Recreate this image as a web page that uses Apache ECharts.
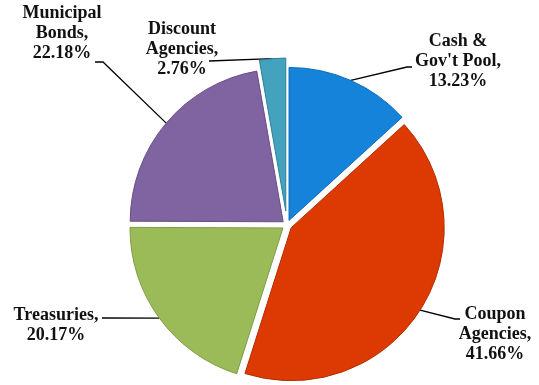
<!DOCTYPE html>
<html>
<head>
<meta charset="utf-8">
<script src="https://cdn.jsdelivr.net/npm/echarts@6/dist/echarts.min.js"></script>
<style>
  html, body { margin: 0; padding: 0; background: #ffffff; }
  #chart { width: 539px; height: 385px; }
</style>
</head>
<body>
<div id="chart"></div>
<script>
// Portfolio composition by holding type (percent of total)
const categories = ["Cash &\nGov't Pool", 'Coupon\nAgencies', 'Treasuries', 'Municipal\nBonds', 'Discount\nAgencies'];
const shares = [13.23, 41.66, 20.17, 22.18, 2.76];
const sliceColors = ['#1583d9', '#dc3a02', '#9bbb59', '#8063a1', '#43a3bf'];
const edgeColors = ['#0f6cb4', '#b22e00', '#7f9c46', '#674f85', '#327f95'];

// How far each slice is pulled away from the centre (the thin one sticks out more)
const sliceOffsets = [5, 5, 5, 5, 14];

// Where each label block sits and how its leader line bends (page coordinates)
const labelPlacement = [
  { x: 458, y: 61, path: [[407, 67], [412, 67]] },
  { x: 495, y: 334, path: [[455, 319], [460, 319]] },
  { x: 56, y: 325, path: [[102, 318]] },
  { x: 62, y: 33, path: [[103, 62], [95, 62]] },
  { x: 182, y: 49, path: [[209, 61]] }
];

const CENTER = [287, 225];
const RADIUS = 153;

// Mid angle of each slice, measured clockwise from 12 o'clock
const totalShare = shares.reduce(function (a, b) { return a + b; }, 0);
const midAngles = (function () {
  let acc = 0;
  return shares.map(function (v) {
    const m = (acc + v / 2) / totalShare * Math.PI * 2;
    acc += v;
    return m;
  });
})();

const baseSeries = {
  type: 'pie',
  center: CENTER,
  radius: RADIUS,
  startAngle: 90,
  clockwise: true,
  avoidLabelOverlap: false,
  emphasis: { disabled: true },
  silent: true
};

// Slices: one pie per distinct pull-out distance, other slices left transparent
const distinctOffsets = sliceOffsets.filter(function (v, i, a) { return a.indexOf(v) === i; });
const sliceSeries = distinctOffsets.map(function (off) {
  return Object.assign({}, baseSeries, {
    selectedMode: 'multiple',
    selectedOffset: off,
    label: { show: false },
    labelLine: { show: false },
    data: shares.map(function (v, i) {
      return {
        name: categories[i],
        value: v,
        selected: true,
        itemStyle: {
          color: sliceColors[i],
          borderColor: edgeColors[i],
          borderWidth: 1,
          opacity: sliceOffsets[i] === off ? 1 : 0
        }
      };
    })
  });
});

// Labels and leader lines on an unshifted, see-through copy of the pie
const labelSeries = Object.assign({}, baseSeries, {
  selectedMode: false,
  itemStyle: { color: 'rgba(0,0,0,0)', borderWidth: 0 },
  data: shares.map(function (v, i) { return { name: categories[i], value: v }; }),
  label: {
    position: 'outside',
    fontFamily: '"Liberation Serif", "Times New Roman", serif',
    fontWeight: 'bold',
    fontSize: 18,
    lineHeight: 20,
    color: '#111111',
    formatter: function (p) {
      return p.name + ',\n' + p.value.toFixed(2) + '%';
    }
  },
  labelLine: {
    show: true,
    length: 20,
    length2: 10,
    lineStyle: { color: '#000000', width: 1.3 }
  },
  labelLayout: function (params) {
    const i = params.dataIndex;
    const place = labelPlacement[i];
    if (!place || !params.labelLinePoints || !params.labelLinePoints[0]) {
      return {};
    }
    // start the leader on the pulled-out slice edge
    const a = params.labelLinePoints[0];
    const anchor = [
      a[0] + Math.sin(midAngles[i]) * sliceOffsets[i],
      a[1] - Math.cos(midAngles[i]) * sliceOffsets[i]
    ];
    return {
      x: place.x,
      y: place.y,
      align: 'center',
      verticalAlign: 'middle',
      labelLinePoints: [anchor].concat(place.path)
    };
  }
});

const chart = echarts.init(document.getElementById('chart'), null, { renderer: 'canvas' });
chart.setOption({
  backgroundColor: '#ffffff',
  animation: false,
  series: sliceSeries.concat([labelSeries])
});
</script>
</body>
</html>
